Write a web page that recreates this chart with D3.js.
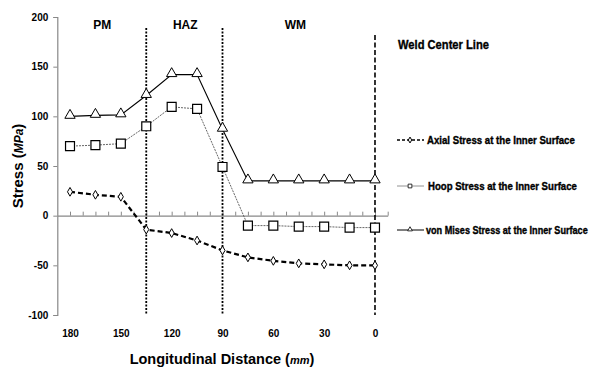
<!DOCTYPE html>
<html>
<head>
<meta charset="utf-8">
<script src="https://cdn.jsdelivr.net/npm/d3@7"></script>
<style>
  html, body { margin: 0; padding: 0; background: #fff; }
  svg { display: block; }
  text { font-family: Arial, "Liberation Sans", sans-serif; font-weight: bold; fill: #000; }
</style>
</head>
<body>
<script>
// Longitudinal positions (mm) measured from the weld center line
const distance = [180, 165, 150, 135, 120, 105, 90, 75, 60, 45, 30, 15, 0];
// Stress values (MPa) at the inner surface
const axialStress = [24, 21, 19, -14, -17.5, -25, -35, -42, -45.5, -48, -49, -50, -50];
const hoopStress  = [70, 71, 72.5, 90, 109.5, 107.5, 49, -10, -10, -11, -11, -12, -12];
const vonMises    = [100, 101, 101.5, 121, 142, 142, 87, 35, 35, 35, 35, 35, 35];

const xTickValues = [180, 150, 120, 90, 60, 30, 0];
const yTickValues = [200, 150, 100, 50, 0, -50, -100];
const zoneBoundaries = [135, 90];
const zoneLabels = [{ name: "PM", at: 161 }, { name: "HAZ", at: 112 }, { name: "WM", at: 47 }];
const seriesNames = [
  "Axial Stress at the Inner Surface",
  "Hoop Stress at the Inner Surface",
  "von Mises Stress at the Inner Surface"
];

const W = 592, H = 375;
const svg = d3.select("body").append("svg").attr("width", W).attr("height", H);

const x = d3.scaleLinear().domain([187.5, -7.5]).range([57.3, 387.7]);
const y = d3.scaleLinear().domain([-100, 200]).range([315, 17]);

// Condensed heavy label: draws text at (x0, y0) horizontally squeezed to the given width
function condensedText(parent, x0, y0, width, size, str) {
  const g = parent.append("g");
  const t = g.append("text").attr("font-size", size)
    .attr("stroke", "#000").attr("stroke-width", 0.35).text(str);
  const natural = t.node().getComputedTextLength();
  g.attr("transform", `translate(${x0},${y0}) scale(${width / natural},1)`);
  return g;
}

// Y axis
const yAxis = d3.axisLeft(y).tickValues(yTickValues).tickSize(4).tickFormat(d => String(d));
const gy = svg.append("g").attr("transform", `translate(${x(187.5)},0)`).call(yAxis);
gy.select(".domain").attr("stroke", "#888").attr("stroke-width", 1.2);
gy.selectAll(".tick line").attr("stroke", "#888");
gy.selectAll(".tick text").attr("font-size", 10).attr("font-family", "Arial, sans-serif")
  .attr("font-weight", "bold").attr("x", -9).attr("fill", "#000");

// X axis line along zero with small upward ticks every 7.5 mm
const minorTicks = d3.range(0, 27).map(i => 187.5 - i * 7.5);
const xAxis = d3.axisTop(x).tickValues(minorTicks).tickSize(4).tickFormat("").tickSizeOuter(0);
const gx = svg.append("g").attr("transform", `translate(0,${y(0)})`).call(xAxis);
gx.select(".domain").attr("stroke", "#888").attr("stroke-width", 1.2);
gx.selectAll(".tick line").attr("stroke", "#888");
gx.selectAll(".tick").filter(d => Math.abs(d - 187.5) < 1e-6).remove();

// X tick labels below the plot
const xLabels = d3.axisBottom(x).tickValues(xTickValues).tickSize(0).tickFormat(d => String(d));
const gxl = svg.append("g").attr("transform", `translate(0,327)`).call(xLabels);
gxl.select(".domain").remove();
gxl.selectAll(".tick text").attr("font-size", 10).attr("font-family", "Arial, sans-serif")
  .attr("font-weight", "bold").attr("fill", "#000");

// Zone boundaries
zoneBoundaries.forEach(b => {
  svg.append("line").attr("x1", x(b)).attr("x2", x(b)).attr("y1", 28).attr("y2", y(-100))
    .attr("stroke", "#000").attr("stroke-width", 1.8).attr("stroke-dasharray", "2,1.5");
});
// Weld center line
svg.append("line").attr("x1", x(0)).attr("x2", x(0)).attr("y1", 35).attr("y2", y(-100))
  .attr("stroke", "#000").attr("stroke-width", 1.6).attr("stroke-dasharray", "5,2.5");

zoneLabels.forEach(z => {
  svg.append("text").attr("x", x(z.at)).attr("y", 29).attr("text-anchor", "middle")
    .attr("font-size", 12).text(z.name);
});
condensedText(svg, 398, 49, 91, 13, "Weld Center Line");

// Series lines
const line = d3.line().x((d, i) => x(distance[i])).y(d => y(d));

svg.append("path").datum(hoopStress).attr("d", line).attr("fill", "none")
  .attr("stroke", "#555").attr("stroke-width", 0.9).attr("stroke-dasharray", "2,1");
svg.append("path").datum(vonMises).attr("d", line).attr("fill", "none")
  .attr("stroke", "#000").attr("stroke-width", 1.1);
svg.append("path").datum(axialStress).attr("d", line).attr("fill", "none")
  .attr("stroke", "#000").attr("stroke-width", 2.2).attr("stroke-dasharray", "5,3");

// Markers
const tri = d3.symbol().type(d3.symbolTriangle).size(46);
const sq = d3.symbol().type(d3.symbolSquare).size(80);
const dia = d3.symbol().type(d3.symbolDiamond).size(22);

svg.append("g").selectAll("path").data(hoopStress).join("path")
  .attr("d", sq).attr("transform", (d, i) => `translate(${x(distance[i])},${y(d)})`)
  .attr("fill", "#fff").attr("stroke", "#000").attr("stroke-width", 1.2);
svg.append("g").selectAll("path").data(vonMises).join("path")
  .attr("d", tri).attr("transform", (d, i) => `translate(${x(distance[i])},${y(d) - 1})`)
  .attr("fill", "#fff").attr("stroke", "#000").attr("stroke-width", 1);
svg.append("g").selectAll("path").data(axialStress).join("path")
  .attr("d", dia).attr("transform", (d, i) => `translate(${x(distance[i])},${y(d)})`)
  .attr("fill", "#fff").attr("stroke", "#000").attr("stroke-width", 1);

// Legend
const legY = [140, 186, 230];
const lg = svg.append("g");
// axial
lg.append("line").attr("x1", 397).attr("x2", 424).attr("y1", legY[0]).attr("y2", legY[0])
  .attr("stroke", "#000").attr("stroke-width", 1.6).attr("stroke-dasharray", "3,2");
lg.append("path").attr("d", d3.symbol().type(d3.symbolDiamond).size(10))
  .attr("transform", `translate(410,${legY[0]})`).attr("fill", "#fff").attr("stroke", "#000");
// hoop
lg.append("line").attr("x1", 397).attr("x2", 424).attr("y1", legY[1]).attr("y2", legY[1])
  .attr("stroke", "#777").attr("stroke-width", 0.8);
lg.append("path").attr("d", d3.symbol().type(d3.symbolSquare).size(14))
  .attr("transform", `translate(410,${legY[1]})`).attr("fill", "#fff").attr("stroke", "#000").attr("stroke-width", 0.8);
// von Mises
lg.append("line").attr("x1", 397).attr("x2", 424).attr("y1", legY[2]).attr("y2", legY[2])
  .attr("stroke", "#000").attr("stroke-width", 1);
lg.append("path").attr("d", d3.symbol().type(d3.symbolTriangle).size(10))
  .attr("transform", `translate(410,${legY[2] - 0.5})`).attr("fill", "#fff").attr("stroke", "#000").attr("stroke-width", 0.8);

const legStart = [427, 428, 426];
const legEnd = [575, 577, 588];
seriesNames.forEach((n, i) => {
  condensedText(lg, legStart[i], legY[i] + 3.5, legEnd[i] - legStart[i], 10, n);
});

// Axis titles
const yt = svg.append("text").attr("transform", `translate(23,166) rotate(-90)`)
  .attr("text-anchor", "middle").attr("font-size", 15);
yt.append("tspan").text("Stress (");
yt.append("tspan").attr("font-style", "italic").attr("font-size", 12).text("MPa");
yt.append("tspan").text(")");

const xt = svg.append("text").attr("x", 222).attr("y", 364).attr("text-anchor", "middle")
  .attr("font-size", 14.5);
xt.append("tspan").text("Longitudinal Distance (");
xt.append("tspan").attr("font-style", "italic").attr("font-size", 11).text("mm");
xt.append("tspan").text(")");
</script>
</body>
</html>
